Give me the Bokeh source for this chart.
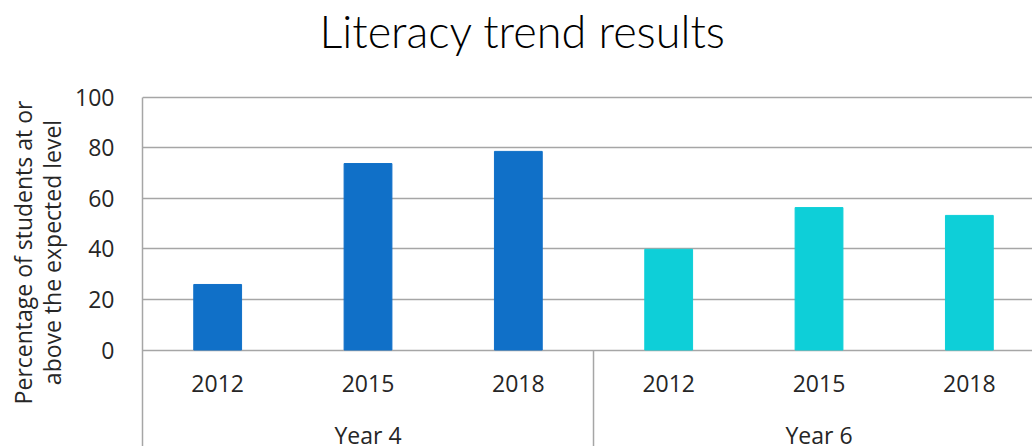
from bokeh.plotting import figure
from bokeh.models import FixedTicker, ColumnDataSource, Range1d
from bokeh.core.properties import value
from bokeh.embed import file_html
from bokeh.resources import INLINE

# ---- data ----
chart_title = "Literacy trend results"
groups = ["Year 4", "Year 6"]
years = ["2012", "2015", "2018"]
year4_values = [25.9, 73.7, 78.5]
year6_values = [39.8, 56.3, 53.2]
group_colors = ["#1070C8", "#0ECFD8"]
y_label = "Percentage of students at or\nabove the expected level"
y_ticks = [0, 20, 40, 60, 80, 100]

FONT = "Open Sans"
GRID = "#A6A6A6"
TXT = "#262626"

series = [year4_values, year6_values]
n = len(years)

xs, tops, cols = [], [], []
lab_x, lab_t = [], []
for gi, vals in enumerate(series):
    for yi, v in enumerate(vals):
        xs.append(gi * n + yi + 0.5)
        tops.append(v)
        cols.append(group_colors[gi])
        lab_x.append(gi * n + yi + 0.5)
        lab_t.append(years[yi])

bars = ColumnDataSource(dict(x=xs, top=tops, color=cols))

W, H = 1032, 446
LEFT = 142
TOP = 58
x_end = 5.92
y_start, y_end = -38.14, 115.22

p = figure(width=W, height=H, output_backend="svg", toolbar_location=None,
           x_range=Range1d(0, x_end), y_range=Range1d(y_start, y_end),
           min_border_left=LEFT, min_border_right=0, min_border_top=TOP, min_border_bottom=0)

p.vbar(x="x", top="top", bottom=0, width=0.318, color="color", source=bars)

# category labels
p.text(x=lab_x, y=[-13.4] * len(lab_x), text=lab_t, text_align="center", text_baseline="middle",
       text_font=value(FONT), text_font_size="23px", text_color=TXT)
p.text(x=[gi * n + n / 2 for gi in range(len(groups))], y=[-33.4] * len(groups), text=groups,
       text_align="center", text_baseline="middle",
       text_font=value(FONT), text_font_size="23px", text_color=TXT)

# group separators
sep_x = [gi * n for gi in range(1, len(groups) + 1)]
p.segment(x0=sep_x, y0=[0] * len(sep_x), x1=sep_x, y1=[y_start] * len(sep_x),
          line_color=GRID, line_width=1.5)

# axes / grid
p.xaxis.visible = False
p.xgrid.visible = False
p.ygrid.ticker = FixedTicker(ticks=y_ticks)
p.ygrid.grid_line_color = GRID
p.ygrid.grid_line_width = 1.5
p.yaxis.ticker = FixedTicker(ticks=y_ticks)
p.yaxis.bounds = (y_start, max(y_ticks))
p.yaxis.axis_line_color = GRID
p.yaxis.axis_line_width = 1.5
p.yaxis.major_tick_line_color = None
p.yaxis.minor_tick_line_color = None
p.yaxis.major_label_standoff = 22
p.yaxis.major_label_text_font = FONT
p.yaxis.major_label_text_font_size = "23px"
p.yaxis.major_label_text_color = TXT
p.yaxis.axis_label = y_label
p.yaxis.axis_label_text_font = FONT
p.yaxis.axis_label_text_font_size = "23px"
p.yaxis.axis_label_text_font_style = "normal"
p.yaxis.axis_label_text_color = TXT
p.yaxis.axis_label_text_line_height = 0.9
p.yaxis.axis_label_standoff = 4
p.outline_line_color = None

p.title.text = chart_title
p.title.align = "left"
p.title.offset = 177
p.title.text_font = "Lato Light"
p.title.text_font_size = "45px"
p.title.text_font_style = "normal"
p.title.text_color = "#000000"
p.title.standoff = 1

open("out.html", "w").write(file_html(p, INLINE))
